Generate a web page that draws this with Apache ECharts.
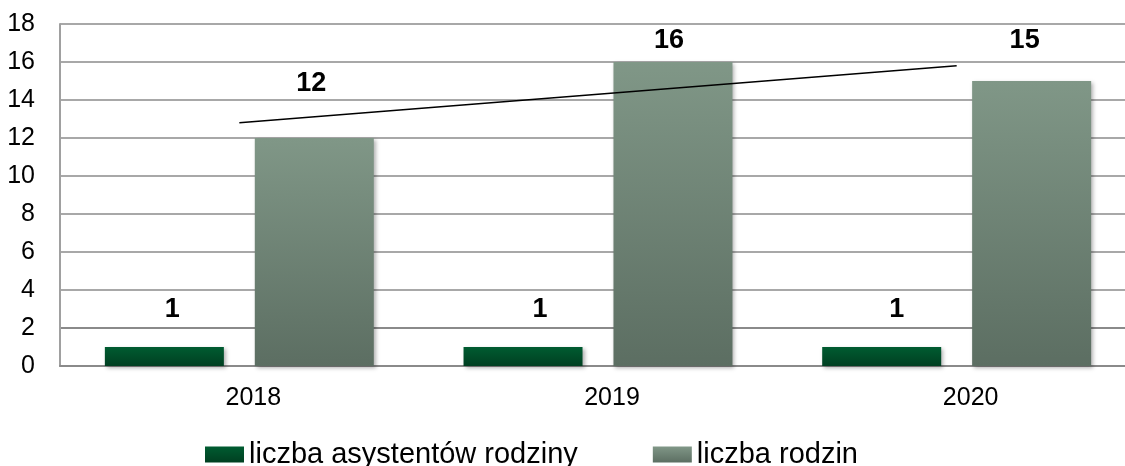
<!DOCTYPE html>
<html>
<head>
<meta charset="utf-8">
<script src="https://cdn.jsdelivr.net/npm/echarts@6/dist/echarts.min.js"></script>
<style>
html,body{margin:0;padding:0;background:#fff;overflow:hidden;width:1125px;height:466px;}
#chart{width:1136px;height:466px;}
</style>
</head>
<body>
<div id="chart"></div>
<script>
const categories = ['2018', '2019', '2020'];
const asystenci = [1, 1, 1];
const rodziny = [12, 16, 15];
const trendRodziny = [12.8, 14.3, 15.8];
const seriesNames = ['liczba asystentów rodziny', 'liczba rodzin'];

// label placement (styling, not data)
const asystenciLabelOffsets = [[8, -19], [17, -19], [15, -19]];
const rodzinyLabelOffsets = [[-3, -36], [-4, -3], [-7, -22]];

const FONT = '"Liberation Sans", Arial, sans-serif';
const chart = echarts.init(document.getElementById('chart'), null, {renderer: 'canvas'});

function withLabels(values, offsets) {
  return values.map((v, i) => ({
    value: v,
    label: {offset: offsets[i]}
  }));
}

const labelStyle = {
  show: true,
  position: 'top',
  distance: 5,
  color: '#000',
  fontFamily: FONT,
  fontWeight: 'bold',
  fontSize: 27
};

const shadow = {
  shadowBlur: 4,
  shadowOffsetX: 2,
  shadowOffsetY: 2,
  shadowColor: 'rgba(0,0,0,0.3)'
};

chart.setOption({
  animation: false,
  backgroundColor: '#fff',
  grid: {left: 60, top: 24, bottom: 100, right: 0, containLabel: false},
  legend: {
    data: seriesNames,
    left: 200,
    top: 435,
    itemWidth: 39,
    itemHeight: 16,
    itemGap: 75,
    icon: 'rect',
    textStyle: {fontFamily: FONT, fontSize: 29, color: '#000'}
  },
  xAxis: {
    type: 'category',
    data: categories,
    axisLine: {show: true, lineStyle: {color: '#8a8a8a', width: 2}},
    axisTick: {show: false},
    axisLabel: {color: '#000', fontFamily: FONT, fontSize: 25, margin: 20, padding: [0, 0, 0, 28]}
  },
  yAxis: {
    type: 'value',
    min: 0,
    max: 18,
    interval: 2,
    axisLine: {show: true, lineStyle: {color: '#a0a0a0', width: 2}},
    axisTick: {show: false},
    axisLabel: {color: '#000', fontFamily: FONT, fontSize: 25, margin: 25},
    splitLine: {
      show: true,
      lineStyle: {
        color: ['#8a8a8a', '#8a8a8a', '#a8a8a8', '#a8a8a8', '#a8a8a8', '#a8a8a8', '#a8a8a8', '#a8a8a8', '#a8a8a8', '#a8a8a8'],
        width: 2
      }
    }
  },
  series: [
    {
      name: seriesNames[0],
      type: 'bar',
      barWidth: 119,
      barGap: '26%',
      data: withLabels(asystenci, asystenciLabelOffsets),
      label: labelStyle,
      itemStyle: Object.assign({
        color: new echarts.graphic.LinearGradient(0, 0, 0, 1, [
          {offset: 0, color: '#005c31'},
          {offset: 1, color: '#003f21'}
        ])
      }, shadow)
    },
    {
      name: seriesNames[1],
      type: 'bar',
      barWidth: 119,
      barGap: '26%',
      data: withLabels(rodziny, rodzinyLabelOffsets),
      label: labelStyle,
      itemStyle: Object.assign({
        color: new echarts.graphic.LinearGradient(0, 0, 0, 1, [
          {offset: 0, color: '#809787'},
          {offset: 1, color: '#5c6e62'}
        ])
      }, shadow)
    },
    {
      name: 'trend',
      type: 'line',
      data: trendRodziny,
      symbol: 'none',
      silent: true,
      z: 5,
      lineStyle: {color: '#000', width: 1.6},
      label: {show: false}
    }
  ]
});
</script>
</body>
</html>
